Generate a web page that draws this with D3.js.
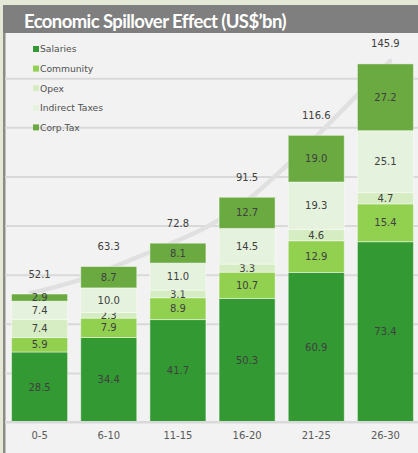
<!DOCTYPE html>
<html>
<head>
<meta charset="utf-8">
<script src="https://cdnjs.cloudflare.com/ajax/libs/d3/7.8.5/d3.min.js"></script>
<style>
  html, body { margin: 0; padding: 0; background: #e3e9d6; }
  svg { display: block; }
</style>
</head>
<body>
<svg id="chart" width="418" height="453"></svg>
<script>
// Periods (years) and spillover components, US$ bn
const periods = ["0-5", "6-10", "11-15", "16-20", "21-25", "26-30"];
const seriesNames = ["Salaries", "Community", "Opex", "Indirect Taxes", "Corp.Tax"];
const salaries = [28.5, 34.4, 41.7, 50.3, 60.9, 73.4];
const community = [5.9, 7.9, 8.9, 10.7, 12.9, 15.4];
const opex = [7.4, 2.3, 3.1, 3.3, 4.6, 4.7];
const indirectTaxes = [7.4, 10.0, 11.0, 14.5, 19.3, 25.1];
const corpTax = [2.9, 8.7, 8.1, 12.7, 19.0, 27.2];
const totals = [52.1, 63.3, 72.8, 91.5, 116.6, 145.9];
const yTicks = [0, 20, 40, 60, 80, 100, 120, 140];
// Decorative growth swoosh behind the bars: [category position, value]
const swoosh = [[-0.13, 52.5], [0.59, 58], [1.45, 67.5], [2.39, 79], [2.9, 88], [3.48, 102], [4.24, 123], [5.07, 147]];

const colors = ["#339933", "#92d050", "#d6edc3", "#e5f2dd", "#6aaa40"];
const seriesValues = [salaries, community, opex, indirectTaxes, corpTax];

const svg = d3.select("#chart");
const W = 418, H = 453;

// Panel
svg.append("rect").attr("x", 3).attr("y", 5).attr("width", W - 3).attr("height", H - 5).attr("fill", "#f2f2f2");
svg.append("rect").attr("x", 3).attr("y", 5).attr("width", 2.5).attr("height", H - 5).attr("fill", "#8c8c84");

const x = d3.scaleBand().domain(periods).range([5, 420]).paddingInner(0.19).paddingOuter(0.095);
const y = d3.scaleLinear().domain([0, 160]).range([422, 29]);

// Gridlines
const grid = svg.append("g").attr("transform", "translate(5,0)")
  .call(d3.axisLeft(y).tickValues(yTicks).tickSize(-(W - 5)).tickFormat(""));
grid.select(".domain").remove();
grid.selectAll(".tick line").attr("stroke", "#d9d9d9").attr("stroke-width", 2);

// Swoosh
const xPos = d3.scaleLinear().domain([0, 1]).range([x(periods[0]) + x.bandwidth() / 2, x(periods[1]) + x.bandwidth() / 2]);
svg.append("path")
  .datum(swoosh)
  .attr("d", d3.line().x(d => xPos(d[0])).y(d => y(d[1])).curve(d3.curveCatmullRom))
  .attr("fill", "none").attr("stroke", "#e0e0e0").attr("stroke-width", 4.5).attr("stroke-linecap", "round");

// Stacked bars
const rows = periods.map((p, i) => {
  const r = { period: p };
  seriesNames.forEach((s, k) => r[s] = seriesValues[k][i]);
  return r;
});
const stacked = d3.stack().keys(seriesNames)(rows);

const layers = svg.append("g").selectAll("g").data(stacked).join("g")
  .attr("fill", (d, k) => colors[k]);
layers.selectAll("rect").data(d => d).join("rect")
  .attr("x", d => x(d.data.period))
  .attr("y", d => y(d[1]))
  .attr("width", x.bandwidth())
  .attr("height", d => y(d[0]) - y(d[1]))
  .attr("stroke", "rgba(255,255,255,0.45)").attr("stroke-width", 1);

const labelFont = "'DejaVu Sans', Verdana, sans-serif";
layers.selectAll("text").data(d => d.map(v => ({ v, key: d.key }))).join("text")
  .attr("x", d => x(d.v.data.period) + x.bandwidth() / 2)
  .attr("y", d => (y(d.v[0]) + y(d.v[1])) / 2 + 3.6)
  .attr("text-anchor", "middle")
  .attr("font-family", labelFont).attr("font-size", 10)
  .attr("fill", "#404040")
  .text(d => d.v.data[d.key].toFixed(1));

// Totals
svg.append("g").selectAll("text").data(periods).join("text")
  .attr("x", p => x(p) + x.bandwidth() / 2)
  .attr("y", (p, i) => y(d3.sum(seriesValues, s => s[i])) - 20 + 3.6)
  .attr("text-anchor", "middle")
  .attr("font-family", labelFont).attr("font-size", 10)
  .attr("fill", "#404040")
  .text((p, i) => totals[i].toFixed(1));

// X axis labels
const xAxis = svg.append("g").attr("transform", "translate(0,422)")
  .call(d3.axisBottom(x).tickSize(0).tickPadding(10));
xAxis.select(".domain").attr("stroke", "#d9d9d9").attr("stroke-width", 2).attr("d", "M5,0H418");
xAxis.selectAll("text").attr("font-family", labelFont).attr("font-size", 10).attr("fill", "#595959");

// Legend
const legend = svg.append("g").selectAll("g").data(seriesNames).join("g")
  .attr("transform", (d, i) => `translate(33,${49 + i * 19.6})`);
legend.append("rect").attr("x", 0).attr("y", -3).attr("width", 6).attr("height", 6)
  .attr("fill", (d, i) => colors[i]);
legend.append("text").attr("x", 7).attr("y", 3.3)
  .attr("font-family", labelFont).attr("font-size", 9.2).attr("fill", "#505050")
  .text(d => d);

// Title bar
svg.append("rect").attr("x", 3).attr("y", 5).attr("width", W - 3).attr("height", 28).attr("fill", "#7f7f7f");
svg.append("text").attr("x", 24).attr("y", 27.5)
  .attr("font-family", "Lato, 'Open Sans', sans-serif").attr("font-weight", 700)
  .attr("font-size", 18.5).attr("letter-spacing", -0.6).attr("fill", "#ffffff")
  .text("Economic Spillover Effect (US$\u2019bn)");
</script>
</body>
</html>
